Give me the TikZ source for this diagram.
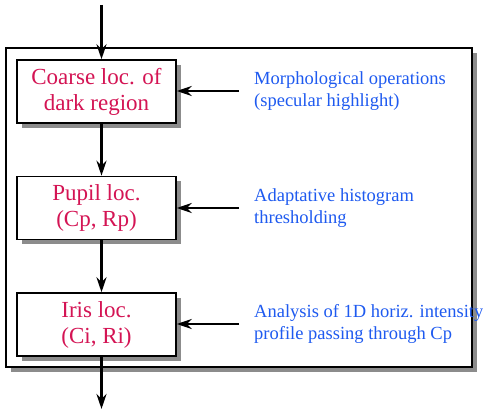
\documentclass[tikz,border=0pt]{standalone}
\usepackage{fontspec}
\setmainfont{Liberation Serif}
\usetikzlibrary{arrows.meta,shadows}
\definecolor{stepred}{RGB}{212,20,84}
\definecolor{noteblue}{RGB}{30,90,240}
\definecolor{shadowgray}{RGB}{140,140,140}
\begin{document}
\begin{tikzpicture}[x=1pt,y=-1pt,
  shadowed/.style={drop shadow={shadow xshift=5pt,shadow yshift=-5pt,fill=shadowgray,opacity=1}},
  stepbox/.style={draw,line width=1.5pt,fill=white,shadowed,minimum width=159pt,minimum height=63pt,
    inner sep=0pt,align=center,text=stepred,font=\fontsize{23}{26}\selectfont},
  note/.style={anchor=west,inner sep=0pt,align=left,text=noteblue,font=\fontsize{18.5}{22}\selectfont},
  flow/.style={line width=2.5pt,-{Stealth[length=15pt,width=10pt,inset=5pt]}}]
\useasboundingbox (0,0) rectangle (483,411);
% enclosing frame
\node (frame) [draw,line width=1.5pt,fill=white,shadowed,minimum width=466pt,minimum height=319pt,inner sep=0pt] at (239,207.5) {};
% processing steps
\node (coarse) [stepbox] at (96.5,91.5) {Coarse loc. of\\dark region};
\node (pupil) [stepbox] at (96.5,208) {Pupil loc.\\(Cp, Rp)};
\node (iris) [stepbox] at (96.5,324.5) {Iris loc.\\(Ci, Ri)};
% input and output ends
\coordinate (in) at (101.5,5);
\coordinate (out) at (101.5,409);
% method descriptions
\node (n1) [note] at (254,91) {Morphological operations\\(specular highlight)};
\node (n2) [note] at (254,208) {Adaptative histogram\\thresholding};
\node (n3) [note] at (254,324) {Analysis of 1D horiz. intensity\\profile passing through Cp};
\coordinate (m1) at (239,91);
\coordinate (m2) at (239,208);
\coordinate (m3) at (239,324);
% main flow
\draw[flow] (in) -- (in |- coarse.north);
\draw[flow] (in |- coarse.south) -- (in |- pupil.north);
\draw[flow] (in |- pupil.south) -- (in |- iris.north);
\draw[flow] (in |- iris.south) -- (out);
% side inputs
\draw[flow] (m1) -- (coarse.east |- m1);
\draw[flow] (m2) -- (pupil.east |- m2);
\draw[flow] (m3) -- (iris.east |- m3);
\end{tikzpicture}
\end{document}
